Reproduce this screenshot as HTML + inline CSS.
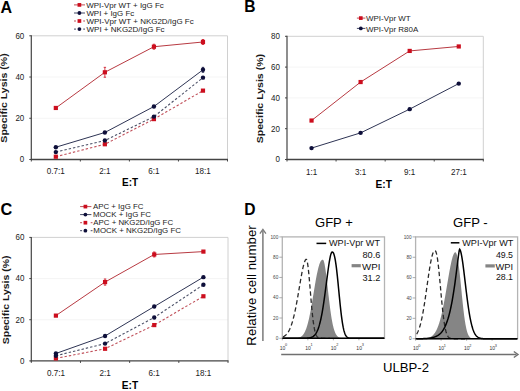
<!DOCTYPE html><html><head><meta charset="utf-8"><style>html,body{margin:0;padding:0;background:#fff;}body{width:520px;height:391px;overflow:hidden}svg{display:block}</style></head><body>
<svg width="520" height="391" viewBox="0 0 520 391" font-family="'Liberation Sans', sans-serif">
<rect width="520" height="391" fill="#fff"/>
<text x="0.6" y="12.7" font-size="16" text-anchor="start" font-weight="bold" fill="#000">A</text>
<text x="244.3" y="12.0" font-size="15.6" text-anchor="start" font-weight="bold" fill="#000">B</text>
<text x="0.6" y="215.0" font-size="16.3" text-anchor="start" font-weight="bold" fill="#000">C</text>
<text x="244.3" y="214.8" font-size="15.6" text-anchor="start" font-weight="bold" fill="#000">D</text>
<line x1="31.30" y1="118.27" x2="227.50" y2="118.27" stroke="#f3f3f3" stroke-width="0.8"/>
<line x1="31.30" y1="77.03" x2="227.50" y2="77.03" stroke="#f3f3f3" stroke-width="0.8"/>
<line x1="31.30" y1="35.80" x2="227.50" y2="35.80" stroke="#d0d0d0" stroke-width="1"/>
<line x1="227.50" y1="35.80" x2="227.50" y2="159.50" stroke="#d0d0d0" stroke-width="1"/>
<line x1="31.30" y1="35.30" x2="31.30" y2="160.00" stroke="#444444" stroke-width="1.2"/>
<line x1="30.80" y1="159.50" x2="228.00" y2="159.50" stroke="#444444" stroke-width="1.3"/>
<line x1="29.30" y1="159.50" x2="31.30" y2="159.50" stroke="#444444" stroke-width="1"/>
<text x="24.3" y="162.30" font-size="8.96" text-anchor="end" fill="#1a1a1a" textLength="4.45" lengthAdjust="spacingAndGlyphs">0</text>
<line x1="29.30" y1="118.27" x2="31.30" y2="118.27" stroke="#444444" stroke-width="1"/>
<text x="24.3" y="121.07" font-size="8.96" text-anchor="end" fill="#1a1a1a" textLength="8.90" lengthAdjust="spacingAndGlyphs">20</text>
<line x1="29.30" y1="77.03" x2="31.30" y2="77.03" stroke="#444444" stroke-width="1"/>
<text x="24.3" y="79.83" font-size="8.96" text-anchor="end" fill="#1a1a1a" textLength="8.90" lengthAdjust="spacingAndGlyphs">40</text>
<line x1="29.30" y1="35.80" x2="31.30" y2="35.80" stroke="#444444" stroke-width="1"/>
<text x="24.3" y="38.60" font-size="8.96" text-anchor="end" fill="#1a1a1a" textLength="8.90" lengthAdjust="spacingAndGlyphs">60</text>
<line x1="31.30" y1="159.50" x2="31.30" y2="161.50" stroke="#444444" stroke-width="1"/>
<line x1="80.35" y1="159.50" x2="80.35" y2="161.50" stroke="#444444" stroke-width="1"/>
<line x1="129.40" y1="159.50" x2="129.40" y2="161.50" stroke="#444444" stroke-width="1"/>
<line x1="178.45" y1="159.50" x2="178.45" y2="161.50" stroke="#444444" stroke-width="1"/>
<line x1="227.50" y1="159.50" x2="227.50" y2="161.50" stroke="#444444" stroke-width="1"/>
<text x="55.83" y="173.7" font-size="9.072000000000001" text-anchor="middle" fill="#1a1a1a" textLength="18.01" lengthAdjust="spacingAndGlyphs">0.7:1</text>
<text x="104.87" y="173.7" font-size="9.072000000000001" text-anchor="middle" fill="#1a1a1a" textLength="11.26" lengthAdjust="spacingAndGlyphs">2:1</text>
<text x="153.93" y="173.7" font-size="9.072000000000001" text-anchor="middle" fill="#1a1a1a" textLength="11.26" lengthAdjust="spacingAndGlyphs">6:1</text>
<text x="202.97" y="173.7" font-size="9.072000000000001" text-anchor="middle" fill="#1a1a1a" textLength="15.76" lengthAdjust="spacingAndGlyphs">18:1</text>
<polyline points="55.83,107.96 104.87,72.29 153.93,46.73 202.97,41.99" fill="none" stroke="#b83a42" stroke-width="1.0"/>
<polyline points="55.83,147.21 104.87,132.49 153.93,106.52 202.97,69.82" fill="none" stroke="#2e3454" stroke-width="1.0"/>
<polyline points="55.83,156.70 104.87,144.24 153.93,119.09 202.97,90.64" fill="none" stroke="#c0505a" stroke-width="1.1" stroke-dasharray="2.4,2.0"/>
<polyline points="55.83,152.08 104.87,140.53 153.93,116.62 202.97,77.65" fill="none" stroke="#4a4f66" stroke-width="1.1" stroke-dasharray="2.4,2.0"/>
<rect x="53.73" y="105.86" width="4.2" height="4.2" fill="#cc0e1e"/>
<line x1="104.87" y1="67.34" x2="104.87" y2="77.24" stroke="#cc0e1e" stroke-width="0.8"/>
<line x1="103.67" y1="67.34" x2="106.07" y2="67.34" stroke="#cc0e1e" stroke-width="0.8"/>
<line x1="103.67" y1="77.24" x2="106.07" y2="77.24" stroke="#cc0e1e" stroke-width="0.8"/>
<rect x="102.77" y="70.19" width="4.2" height="4.2" fill="#cc0e1e"/>
<line x1="153.93" y1="44.25" x2="153.93" y2="49.20" stroke="#cc0e1e" stroke-width="0.8"/>
<line x1="152.73" y1="44.25" x2="155.12" y2="44.25" stroke="#cc0e1e" stroke-width="0.8"/>
<line x1="152.73" y1="49.20" x2="155.12" y2="49.20" stroke="#cc0e1e" stroke-width="0.8"/>
<rect x="151.83" y="44.63" width="4.2" height="4.2" fill="#cc0e1e"/>
<line x1="202.97" y1="39.51" x2="202.97" y2="44.46" stroke="#cc0e1e" stroke-width="0.8"/>
<line x1="201.78" y1="39.51" x2="204.17" y2="39.51" stroke="#cc0e1e" stroke-width="0.8"/>
<line x1="201.78" y1="44.46" x2="204.17" y2="44.46" stroke="#cc0e1e" stroke-width="0.8"/>
<rect x="200.88" y="39.89" width="4.2" height="4.2" fill="#cc0e1e"/>
<circle cx="55.83" cy="147.21" r="2.2" fill="#0e0f3a"/>
<circle cx="104.87" cy="132.49" r="2.2" fill="#0e0f3a"/>
<circle cx="153.93" cy="106.52" r="2.2" fill="#0e0f3a"/>
<line x1="202.97" y1="67.34" x2="202.97" y2="72.29" stroke="#0e0f3a" stroke-width="0.8"/>
<line x1="201.78" y1="67.34" x2="204.17" y2="67.34" stroke="#0e0f3a" stroke-width="0.8"/>
<line x1="201.78" y1="72.29" x2="204.17" y2="72.29" stroke="#0e0f3a" stroke-width="0.8"/>
<circle cx="202.97" cy="69.82" r="2.2" fill="#0e0f3a"/>
<rect x="53.73" y="154.60" width="4.2" height="4.2" fill="#cc0e1e"/>
<rect x="102.77" y="142.14" width="4.2" height="4.2" fill="#cc0e1e"/>
<rect x="151.83" y="116.99" width="4.2" height="4.2" fill="#cc0e1e"/>
<rect x="200.88" y="88.54" width="4.2" height="4.2" fill="#cc0e1e"/>
<circle cx="55.83" cy="152.08" r="2.2" fill="#0e0f3a"/>
<circle cx="104.87" cy="140.53" r="2.2" fill="#0e0f3a"/>
<circle cx="153.93" cy="116.62" r="2.2" fill="#0e0f3a"/>
<circle cx="202.97" cy="77.65" r="2.2" fill="#0e0f3a"/>
<text x="130.1" y="185.8" font-size="10" text-anchor="middle" font-weight="bold" fill="#000">E:T</text>
<text transform="translate(7.3,98.0) rotate(-90)" x="0" y="0" font-size="9" text-anchor="middle" font-weight="bold" fill="#1a1a1a" textLength="89.3" lengthAdjust="spacingAndGlyphs">Specific Lysis (%)</text>
<line x1="74.00" y1="4.90" x2="85.00" y2="4.90" stroke="#b83a42" stroke-width="0.9"/>
<rect x="77.55" y="3.05" width="3.7" height="3.7" fill="#cc0e1e"/>
<text x="86.3" y="7.5" font-size="7.5" text-anchor="start" fill="#1a1a1a" textLength="77.5" lengthAdjust="spacingAndGlyphs">WPI-Vpr WT + IgG Fc</text>
<line x1="74.00" y1="13.00" x2="85.00" y2="13.00" stroke="#2e3454" stroke-width="0.9"/>
<circle cx="79.40" cy="13.00" r="1.9" fill="#0e0f3a"/>
<text x="86.4" y="15.5" font-size="7.5" text-anchor="start" fill="#1a1a1a" textLength="47.8" lengthAdjust="spacingAndGlyphs">WPI + IgG Fc</text>
<line x1="74.00" y1="21.00" x2="76.00" y2="21.00" stroke="#b83a42" stroke-width="0.9"/>
<line x1="83.20" y1="21.00" x2="85.00" y2="21.00" stroke="#b83a42" stroke-width="0.9"/>
<rect x="77.55" y="19.15" width="3.7" height="3.7" fill="#cc0e1e"/>
<text x="86.5" y="23.6" font-size="7.5" text-anchor="start" fill="#1a1a1a" textLength="107.2" lengthAdjust="spacingAndGlyphs">WPI-Vpr WT + NKG2D/IgG Fc</text>
<line x1="74.00" y1="29.10" x2="76.00" y2="29.10" stroke="#2e3454" stroke-width="0.9"/>
<line x1="83.20" y1="29.10" x2="85.00" y2="29.10" stroke="#2e3454" stroke-width="0.9"/>
<circle cx="79.40" cy="29.10" r="1.9" fill="#0e0f3a"/>
<text x="86.5" y="31.5" font-size="7.5" text-anchor="start" fill="#1a1a1a" textLength="78.1" lengthAdjust="spacingAndGlyphs">WPI + NKG2D/IgG Fc</text>
<line x1="287.00" y1="128.70" x2="483.30" y2="128.70" stroke="#f3f3f3" stroke-width="0.8"/>
<line x1="287.00" y1="97.90" x2="483.30" y2="97.90" stroke="#f3f3f3" stroke-width="0.8"/>
<line x1="287.00" y1="67.10" x2="483.30" y2="67.10" stroke="#f3f3f3" stroke-width="0.8"/>
<line x1="287.00" y1="36.30" x2="483.30" y2="36.30" stroke="#d0d0d0" stroke-width="1"/>
<line x1="483.30" y1="36.30" x2="483.30" y2="159.50" stroke="#d0d0d0" stroke-width="1"/>
<line x1="287.00" y1="35.80" x2="287.00" y2="160.00" stroke="#444444" stroke-width="1.2"/>
<line x1="286.50" y1="159.50" x2="483.80" y2="159.50" stroke="#444444" stroke-width="1.3"/>
<line x1="285.00" y1="159.50" x2="287.00" y2="159.50" stroke="#444444" stroke-width="1"/>
<text x="280.0" y="162.30" font-size="8.96" text-anchor="end" fill="#1a1a1a" textLength="4.45" lengthAdjust="spacingAndGlyphs">0</text>
<line x1="285.00" y1="128.70" x2="287.00" y2="128.70" stroke="#444444" stroke-width="1"/>
<text x="280.0" y="131.50" font-size="8.96" text-anchor="end" fill="#1a1a1a" textLength="8.90" lengthAdjust="spacingAndGlyphs">20</text>
<line x1="285.00" y1="97.90" x2="287.00" y2="97.90" stroke="#444444" stroke-width="1"/>
<text x="280.0" y="100.70" font-size="8.96" text-anchor="end" fill="#1a1a1a" textLength="8.90" lengthAdjust="spacingAndGlyphs">40</text>
<line x1="285.00" y1="67.10" x2="287.00" y2="67.10" stroke="#444444" stroke-width="1"/>
<text x="280.0" y="69.90" font-size="8.96" text-anchor="end" fill="#1a1a1a" textLength="8.90" lengthAdjust="spacingAndGlyphs">60</text>
<line x1="285.00" y1="36.30" x2="287.00" y2="36.30" stroke="#444444" stroke-width="1"/>
<text x="280.0" y="39.10" font-size="8.96" text-anchor="end" fill="#1a1a1a" textLength="8.90" lengthAdjust="spacingAndGlyphs">80</text>
<line x1="287.00" y1="159.50" x2="287.00" y2="161.50" stroke="#444444" stroke-width="1"/>
<line x1="336.07" y1="159.50" x2="336.07" y2="161.50" stroke="#444444" stroke-width="1"/>
<line x1="385.15" y1="159.50" x2="385.15" y2="161.50" stroke="#444444" stroke-width="1"/>
<line x1="434.23" y1="159.50" x2="434.23" y2="161.50" stroke="#444444" stroke-width="1"/>
<line x1="483.30" y1="159.50" x2="483.30" y2="161.50" stroke="#444444" stroke-width="1"/>
<text x="311.54" y="174.79999999999998" font-size="9.072000000000001" text-anchor="middle" fill="#1a1a1a" textLength="11.26" lengthAdjust="spacingAndGlyphs">1:1</text>
<text x="360.61" y="174.79999999999998" font-size="9.072000000000001" text-anchor="middle" fill="#1a1a1a" textLength="11.26" lengthAdjust="spacingAndGlyphs">3:1</text>
<text x="409.69" y="174.79999999999998" font-size="9.072000000000001" text-anchor="middle" fill="#1a1a1a" textLength="11.26" lengthAdjust="spacingAndGlyphs">9:1</text>
<text x="458.76" y="174.79999999999998" font-size="9.072000000000001" text-anchor="middle" fill="#1a1a1a" textLength="15.76" lengthAdjust="spacingAndGlyphs">27:1</text>
<polyline points="311.54,120.54 360.61,82.04 409.69,50.93 458.76,46.46" fill="none" stroke="#b83a42" stroke-width="1.0"/>
<polyline points="311.54,148.10 360.61,132.86 409.69,109.14 458.76,83.58" fill="none" stroke="#2e3454" stroke-width="1.0"/>
<rect x="309.44" y="118.44" width="4.2" height="4.2" fill="#cc0e1e"/>
<rect x="358.51" y="79.94" width="4.2" height="4.2" fill="#cc0e1e"/>
<rect x="407.59" y="48.83" width="4.2" height="4.2" fill="#cc0e1e"/>
<rect x="456.66" y="44.36" width="4.2" height="4.2" fill="#cc0e1e"/>
<circle cx="311.54" cy="148.10" r="2.2" fill="#0e0f3a"/>
<circle cx="360.61" cy="132.86" r="2.2" fill="#0e0f3a"/>
<circle cx="409.69" cy="109.14" r="2.2" fill="#0e0f3a"/>
<circle cx="458.76" cy="83.58" r="2.2" fill="#0e0f3a"/>
<text x="383.8" y="187.7" font-size="10.2" text-anchor="middle" font-weight="bold" fill="#000">E:T</text>
<text transform="translate(262.8,98.6) rotate(-90)" x="0" y="0" font-size="9.2" text-anchor="middle" font-weight="bold" fill="#1a1a1a" textLength="89.3" lengthAdjust="spacingAndGlyphs">Specific Lysis (%)</text>
<line x1="356.90" y1="18.10" x2="365.40" y2="18.10" stroke="#b83a42" stroke-width="0.9"/>
<rect x="358.95" y="16.25" width="3.7" height="3.7" fill="#cc0e1e"/>
<text x="366.0" y="21.3" font-size="7.6" text-anchor="start" fill="#1a1a1a" textLength="44.6" lengthAdjust="spacingAndGlyphs">WPI-Vpr WT</text>
<line x1="356.90" y1="28.40" x2="365.40" y2="28.40" stroke="#2e3454" stroke-width="0.9"/>
<circle cx="360.80" cy="28.40" r="1.9" fill="#0e0f3a"/>
<text x="366.0" y="31.6" font-size="7.6" text-anchor="start" fill="#1a1a1a" textLength="52.2" lengthAdjust="spacingAndGlyphs">WPI-Vpr R80A</text>
<line x1="31.30" y1="319.73" x2="228.00" y2="319.73" stroke="#f3f3f3" stroke-width="0.8"/>
<line x1="31.30" y1="278.57" x2="228.00" y2="278.57" stroke="#f3f3f3" stroke-width="0.8"/>
<line x1="31.30" y1="237.40" x2="228.00" y2="237.40" stroke="#d0d0d0" stroke-width="1"/>
<line x1="228.00" y1="237.40" x2="228.00" y2="360.90" stroke="#d0d0d0" stroke-width="1"/>
<line x1="31.30" y1="236.90" x2="31.30" y2="361.40" stroke="#444444" stroke-width="1.2"/>
<line x1="30.80" y1="360.90" x2="228.50" y2="360.90" stroke="#444444" stroke-width="1.3"/>
<line x1="29.30" y1="360.90" x2="31.30" y2="360.90" stroke="#444444" stroke-width="1"/>
<text x="24.4" y="363.70" font-size="8.96" text-anchor="end" fill="#1a1a1a" textLength="4.45" lengthAdjust="spacingAndGlyphs">0</text>
<line x1="29.30" y1="319.73" x2="31.30" y2="319.73" stroke="#444444" stroke-width="1"/>
<text x="24.4" y="322.53" font-size="8.96" text-anchor="end" fill="#1a1a1a" textLength="8.90" lengthAdjust="spacingAndGlyphs">20</text>
<line x1="29.30" y1="278.57" x2="31.30" y2="278.57" stroke="#444444" stroke-width="1"/>
<text x="24.4" y="281.37" font-size="8.96" text-anchor="end" fill="#1a1a1a" textLength="8.90" lengthAdjust="spacingAndGlyphs">40</text>
<line x1="29.30" y1="237.40" x2="31.30" y2="237.40" stroke="#444444" stroke-width="1"/>
<text x="24.4" y="240.20" font-size="8.96" text-anchor="end" fill="#1a1a1a" textLength="8.90" lengthAdjust="spacingAndGlyphs">60</text>
<line x1="31.30" y1="360.90" x2="31.30" y2="362.90" stroke="#444444" stroke-width="1"/>
<line x1="80.47" y1="360.90" x2="80.47" y2="362.90" stroke="#444444" stroke-width="1"/>
<line x1="129.65" y1="360.90" x2="129.65" y2="362.90" stroke="#444444" stroke-width="1"/>
<line x1="178.82" y1="360.90" x2="178.82" y2="362.90" stroke="#444444" stroke-width="1"/>
<line x1="228.00" y1="360.90" x2="228.00" y2="362.90" stroke="#444444" stroke-width="1"/>
<text x="55.89" y="375.59999999999997" font-size="9.072000000000001" text-anchor="middle" fill="#1a1a1a" textLength="18.01" lengthAdjust="spacingAndGlyphs">0.7:1</text>
<text x="105.06" y="375.59999999999997" font-size="9.072000000000001" text-anchor="middle" fill="#1a1a1a" textLength="11.26" lengthAdjust="spacingAndGlyphs">2:1</text>
<text x="154.24" y="375.59999999999997" font-size="9.072000000000001" text-anchor="middle" fill="#1a1a1a" textLength="11.26" lengthAdjust="spacingAndGlyphs">6:1</text>
<text x="203.41" y="375.59999999999997" font-size="9.072000000000001" text-anchor="middle" fill="#1a1a1a" textLength="15.76" lengthAdjust="spacingAndGlyphs">18:1</text>
<polyline points="55.89,315.62 105.06,282.07 154.24,254.48 203.41,251.60" fill="none" stroke="#b83a42" stroke-width="1.0"/>
<polyline points="55.89,353.49 105.06,335.99 154.24,306.56 203.41,277.13" fill="none" stroke="#2e3454" stroke-width="1.0"/>
<polyline points="55.89,358.43 105.06,348.76 154.24,325.08 203.41,296.27" fill="none" stroke="#c0505a" stroke-width="1.1" stroke-dasharray="2.4,2.0"/>
<polyline points="55.89,355.75 105.06,343.61 154.24,317.47 203.41,284.74" fill="none" stroke="#4a4f66" stroke-width="1.1" stroke-dasharray="2.4,2.0"/>
<rect x="53.79" y="313.52" width="4.2" height="4.2" fill="#cc0e1e"/>
<line x1="105.06" y1="278.98" x2="105.06" y2="285.15" stroke="#cc0e1e" stroke-width="0.8"/>
<line x1="103.86" y1="278.98" x2="106.26" y2="278.98" stroke="#cc0e1e" stroke-width="0.8"/>
<line x1="103.86" y1="285.15" x2="106.26" y2="285.15" stroke="#cc0e1e" stroke-width="0.8"/>
<rect x="102.96" y="279.97" width="4.2" height="4.2" fill="#cc0e1e"/>
<line x1="154.24" y1="252.01" x2="154.24" y2="256.95" stroke="#cc0e1e" stroke-width="0.8"/>
<line x1="153.04" y1="252.01" x2="155.44" y2="252.01" stroke="#cc0e1e" stroke-width="0.8"/>
<line x1="153.04" y1="256.95" x2="155.44" y2="256.95" stroke="#cc0e1e" stroke-width="0.8"/>
<rect x="152.14" y="252.38" width="4.2" height="4.2" fill="#cc0e1e"/>
<rect x="201.31" y="249.50" width="4.2" height="4.2" fill="#cc0e1e"/>
<circle cx="55.89" cy="353.49" r="2.2" fill="#0e0f3a"/>
<circle cx="105.06" cy="335.99" r="2.2" fill="#0e0f3a"/>
<circle cx="154.24" cy="306.56" r="2.2" fill="#0e0f3a"/>
<circle cx="203.41" cy="277.13" r="2.2" fill="#0e0f3a"/>
<rect x="53.79" y="356.33" width="4.2" height="4.2" fill="#cc0e1e"/>
<rect x="102.96" y="346.66" width="4.2" height="4.2" fill="#cc0e1e"/>
<rect x="152.14" y="322.98" width="4.2" height="4.2" fill="#cc0e1e"/>
<rect x="201.31" y="294.17" width="4.2" height="4.2" fill="#cc0e1e"/>
<circle cx="55.89" cy="355.75" r="2.2" fill="#0e0f3a"/>
<circle cx="105.06" cy="343.61" r="2.2" fill="#0e0f3a"/>
<circle cx="154.24" cy="317.47" r="2.2" fill="#0e0f3a"/>
<circle cx="203.41" cy="284.74" r="2.2" fill="#0e0f3a"/>
<text x="130.0" y="389.4" font-size="10.2" text-anchor="middle" font-weight="bold" fill="#000">E:T</text>
<text transform="translate(8.9,299.85) rotate(-90)" x="0" y="0" font-size="9" text-anchor="middle" font-weight="bold" fill="#1a1a1a" textLength="88.6" lengthAdjust="spacingAndGlyphs">Specific Lysis (%)</text>
<line x1="80.10" y1="206.60" x2="91.40" y2="206.60" stroke="#b83a42" stroke-width="0.9"/>
<rect x="83.55" y="204.75" width="3.7" height="3.7" fill="#cc0e1e"/>
<text x="92.9" y="209.0" font-size="6.7" text-anchor="start" fill="#1a1a1a" textLength="50.6" lengthAdjust="spacingAndGlyphs">APC + IgG FC</text>
<line x1="80.10" y1="214.60" x2="91.40" y2="214.60" stroke="#2e3454" stroke-width="0.9"/>
<circle cx="85.40" cy="214.60" r="1.9" fill="#0e0f3a"/>
<text x="92.9" y="216.9" font-size="6.7" text-anchor="start" fill="#1a1a1a" textLength="58.1" lengthAdjust="spacingAndGlyphs">MOCK + IgG FC</text>
<line x1="80.10" y1="222.70" x2="82.10" y2="222.70" stroke="#b83a42" stroke-width="0.9"/>
<line x1="90.70" y1="222.70" x2="92.50" y2="222.70" stroke="#b83a42" stroke-width="0.9"/>
<rect x="83.55" y="220.85" width="3.7" height="3.7" fill="#cc0e1e"/>
<text x="93.3" y="225.0" font-size="6.7" text-anchor="start" fill="#1a1a1a" textLength="79.8" lengthAdjust="spacingAndGlyphs">APC + NKG2D/IgG FC</text>
<line x1="80.10" y1="230.70" x2="82.10" y2="230.70" stroke="#2e3454" stroke-width="0.9"/>
<line x1="90.70" y1="230.70" x2="92.50" y2="230.70" stroke="#2e3454" stroke-width="0.9"/>
<circle cx="85.40" cy="230.70" r="1.9" fill="#0e0f3a"/>
<text x="93.3" y="233.2" font-size="6.7" text-anchor="start" fill="#1a1a1a" textLength="87.7" lengthAdjust="spacingAndGlyphs">MOCK + NKG2D/IgG FC</text>
<rect x="282.3" y="236.9" width="102.19999999999999" height="101.4" fill="none" stroke="#b4b4b4" stroke-width="1.3"/>
<line x1="279.30" y1="338.30" x2="282.30" y2="338.30" stroke="#999" stroke-width="0.8"/>
<text x="278.3" y="340.00" font-size="4.7" text-anchor="end" fill="#444">0</text>
<line x1="279.30" y1="318.02" x2="282.30" y2="318.02" stroke="#999" stroke-width="0.8"/>
<text x="278.3" y="319.72" font-size="4.7" text-anchor="end" fill="#444">20</text>
<line x1="279.30" y1="297.74" x2="282.30" y2="297.74" stroke="#999" stroke-width="0.8"/>
<text x="278.3" y="299.44" font-size="4.7" text-anchor="end" fill="#444">40</text>
<line x1="279.30" y1="277.46" x2="282.30" y2="277.46" stroke="#999" stroke-width="0.8"/>
<text x="278.3" y="279.16" font-size="4.7" text-anchor="end" fill="#444">60</text>
<line x1="279.30" y1="257.18" x2="282.30" y2="257.18" stroke="#999" stroke-width="0.8"/>
<text x="278.3" y="258.88" font-size="4.7" text-anchor="end" fill="#444">80</text>
<line x1="279.30" y1="236.90" x2="282.30" y2="236.90" stroke="#999" stroke-width="0.8"/>
<text x="278.3" y="238.60" font-size="4.7" text-anchor="end" fill="#444">100</text>
<line x1="282.30" y1="338.30" x2="282.30" y2="340.30" stroke="#999" stroke-width="0.8"/>
<text x="282.50" y="349.90" font-size="5.0" text-anchor="middle" fill="#333">10</text>
<text x="286.10" y="346.10" font-size="3.8" text-anchor="middle" fill="#333">0</text>
<line x1="307.85" y1="338.30" x2="307.85" y2="340.30" stroke="#999" stroke-width="0.8"/>
<text x="308.05" y="349.90" font-size="5.0" text-anchor="middle" fill="#333">10</text>
<text x="311.65" y="346.10" font-size="3.8" text-anchor="middle" fill="#333">1</text>
<line x1="333.40" y1="338.30" x2="333.40" y2="340.30" stroke="#999" stroke-width="0.8"/>
<text x="333.60" y="349.90" font-size="5.0" text-anchor="middle" fill="#333">10</text>
<text x="337.20" y="346.10" font-size="3.8" text-anchor="middle" fill="#333">2</text>
<line x1="358.95" y1="338.30" x2="358.95" y2="340.30" stroke="#999" stroke-width="0.8"/>
<text x="359.15" y="349.90" font-size="5.0" text-anchor="middle" fill="#333">10</text>
<text x="362.75" y="346.10" font-size="3.8" text-anchor="middle" fill="#333">3</text>
<path d="M283.00,338.3 L283.00,338.30 L283.28,338.30 L283.56,338.30 L283.84,338.30 L284.12,338.30 L284.40,338.30 L284.68,338.30 L284.95,338.30 L285.23,338.30 L285.51,338.30 L285.79,338.30 L286.07,338.30 L286.35,338.30 L286.63,338.30 L286.91,338.30 L287.19,338.30 L287.47,338.30 L287.75,338.30 L288.02,338.30 L288.30,338.30 L288.58,338.30 L288.86,338.30 L289.14,338.30 L289.42,338.30 L289.70,338.30 L289.98,338.30 L290.26,338.29 L290.54,338.29 L290.82,338.29 L291.10,338.29 L291.38,338.29 L291.65,338.29 L291.93,338.28 L292.21,338.28 L292.49,338.28 L292.77,338.27 L293.05,338.27 L293.33,338.26 L293.61,338.26 L293.89,338.25 L294.17,338.24 L294.45,338.23 L294.73,338.22 L295.00,338.20 L295.28,338.19 L295.56,338.17 L295.84,338.15 L296.12,338.13 L296.40,338.10 L296.68,338.07 L296.96,338.03 L297.24,337.99 L297.52,337.95 L297.80,337.90 L298.07,337.84 L298.35,337.78 L298.63,337.71 L298.91,337.63 L299.19,337.54 L299.47,337.44 L299.75,337.33 L300.03,337.20 L300.31,337.07 L300.59,336.91 L300.87,336.75 L301.15,336.56 L301.43,336.36 L301.70,336.14 L301.98,335.90 L302.26,335.63 L302.54,335.34 L302.82,335.03 L303.10,334.68 L303.38,334.31 L303.66,333.91 L303.94,333.48 L304.22,333.01 L304.50,332.51 L304.77,331.97 L305.05,331.39 L305.33,330.78 L305.61,330.12 L305.89,329.42 L306.17,328.68 L306.45,327.89 L306.73,327.05 L307.01,326.17 L307.29,325.25 L307.57,324.27 L307.85,323.25 L308.12,322.18 L308.40,321.06 L308.68,319.89 L308.96,318.68 L309.24,317.41 L309.52,316.11 L309.80,314.76 L310.08,313.36 L310.36,311.93 L310.64,310.45 L310.92,308.94 L311.20,307.40 L311.48,305.82 L311.75,304.21 L312.03,302.58 L312.31,300.93 L312.59,299.26 L312.87,297.57 L313.15,295.87 L313.43,294.17 L313.71,292.47 L313.99,290.76 L314.27,289.07 L314.55,287.38 L314.82,285.72 L315.10,284.07 L315.38,282.45 L315.66,280.85 L315.94,279.29 L316.22,277.77 L316.50,276.29 L316.78,274.86 L317.06,273.48 L317.34,272.15 L317.62,270.88 L317.90,269.67 L318.18,268.52 L318.45,267.44 L318.73,266.43 L319.01,265.49 L319.29,264.62 L319.57,263.82 L319.85,263.09 L320.13,262.44 L320.41,261.86 L320.69,261.35 L320.97,260.92 L321.25,260.56 L321.52,260.27 L321.80,260.04 L322.08,259.87 L322.36,259.77 L322.64,259.71 L322.92,259.70 L323.20,259.88 L323.48,260.32 L323.76,261.01 L324.04,261.92 L324.32,263.05 L324.60,264.37 L324.88,265.88 L325.15,267.55 L325.43,269.37 L325.71,271.33 L325.99,273.41 L326.27,275.60 L326.55,277.87 L326.83,280.21 L327.11,282.61 L327.39,285.04 L327.67,287.50 L327.95,289.97 L328.23,292.44 L328.50,294.89 L328.78,297.31 L329.06,299.70 L329.34,302.03 L329.62,304.31 L329.90,306.53 L330.18,308.67 L330.46,310.74 L330.74,312.73 L331.02,314.63 L331.30,316.44 L331.57,318.16 L331.85,319.79 L332.13,321.33 L332.41,322.78 L332.69,324.14 L332.97,325.41 L333.25,326.59 L333.53,327.70 L333.81,328.72 L334.09,329.66 L334.37,330.53 L334.65,331.32 L334.93,332.05 L335.20,332.72 L335.48,333.33 L335.76,333.88 L336.04,334.38 L336.32,334.83 L336.60,335.24 L336.88,335.60 L337.16,335.93 L337.44,336.22 L337.72,336.48 L338.00,336.71 L338.27,336.92 L338.55,337.10 L338.83,337.26 L339.11,337.40 L339.39,337.52 L339.67,337.63 L339.95,337.72 L340.23,337.81 L340.51,337.88 L340.79,337.94 L341.07,337.99 L341.35,338.04 L341.62,338.08 L341.90,338.11 L342.18,338.14 L342.46,338.17 L342.74,338.19 L343.02,338.21 L343.30,338.22 L343.58,338.23 L343.86,338.25 L344.14,338.25 L344.42,338.26 L344.70,338.27 L344.98,338.27 L345.25,338.28 L345.53,338.28 L345.81,338.29 L346.09,338.29 L346.37,338.29 L346.65,338.29 L346.93,338.29 L347.21,338.29 L347.49,338.30 L347.77,338.30 L348.05,338.30 L348.32,338.30 L348.60,338.30 L348.88,338.30 L349.16,338.30 L349.44,338.30 L349.72,338.30 L350.00,338.30 L350.00,338.3 Z" fill="#858585" stroke="none"/>
<polyline points="283.00,336.87 283.20,336.78 283.39,336.69 283.59,336.59 283.78,336.48 283.98,336.37 284.18,336.25 284.37,336.13 284.57,336.00 284.76,335.86 284.96,335.72 285.15,335.57 285.35,335.41 285.55,335.24 285.74,335.07 285.94,334.89 286.13,334.69 286.33,334.49 286.52,334.28 286.72,334.06 286.92,333.83 287.11,333.59 287.31,333.34 287.50,333.07 287.70,332.80 287.90,332.51 288.09,332.21 288.29,331.90 288.48,331.58 288.68,331.24 288.88,330.89 289.07,330.52 289.27,330.14 289.46,329.75 289.66,329.34 289.85,328.91 290.05,328.47 290.25,328.01 290.44,327.54 290.64,327.04 290.83,326.54 291.03,326.01 291.23,325.47 291.42,324.91 291.62,324.33 291.81,323.73 292.01,323.11 292.20,322.48 292.40,321.83 292.60,321.15 292.79,320.46 292.99,319.75 293.18,319.02 293.38,318.27 293.57,317.50 293.77,316.71 293.97,315.90 294.16,315.07 294.36,314.23 294.55,313.36 294.75,312.48 294.95,311.57 295.14,310.65 295.34,309.71 295.53,308.76 295.73,307.78 295.93,306.79 296.12,305.78 296.32,304.76 296.51,303.72 296.71,302.67 296.90,301.60 297.10,300.52 297.30,299.43 297.49,298.33 297.69,297.22 297.88,296.09 298.08,294.96 298.27,293.82 298.47,292.68 298.67,291.52 298.86,290.37 299.06,289.21 299.25,288.05 299.45,286.89 299.65,285.73 299.84,284.58 300.04,283.42 300.23,282.28 300.43,281.14 300.62,280.00 300.82,278.88 301.02,277.77 301.21,276.68 301.41,275.60 301.60,274.54 301.80,273.49 302.00,272.47 302.19,271.47 302.39,270.49 302.58,269.54 302.78,268.62 302.98,267.73 303.17,266.87 303.37,266.05 303.56,265.26 303.76,264.51 303.95,263.80 304.15,263.13 304.35,262.51 304.54,261.93 304.74,261.40 304.93,260.93 305.13,260.50 305.32,260.14 305.52,259.83 305.72,259.59 305.91,259.41 306.11,259.31 306.30,259.32 306.50,259.49 306.70,259.83 306.89,260.34 307.09,261.03 307.28,261.89 307.48,262.92 307.68,264.10 307.87,265.45 308.07,266.94 308.26,268.56 308.46,270.32 308.65,272.19 308.85,274.17 309.05,276.24 309.24,278.39 309.44,280.61 309.63,282.88 309.83,285.20 310.02,287.55 310.22,289.91 310.42,292.28 310.61,294.64 310.81,296.99 311.00,299.30 311.20,301.59 311.40,303.82 311.59,306.00 311.79,308.12 311.98,310.17 312.18,312.15 312.38,314.05 312.57,315.87 312.77,317.61 312.96,319.26 313.16,320.83 313.35,322.30 313.55,323.69 313.75,325.00 313.94,326.22 314.14,327.35 314.33,328.41 314.53,329.38 314.73,330.28 314.92,331.11 315.12,331.87 315.31,332.56 315.51,333.20 315.70,333.77 315.90,334.29 316.10,334.76 316.29,335.18 316.49,335.56 316.68,335.90 316.88,336.21 317.07,336.48 317.27,336.72 317.47,336.93 317.66,337.11 317.86,337.28 318.05,337.42 318.25,337.55 318.45,337.65 318.64,337.75 318.84,337.83 319.03,337.90 319.23,337.96 319.43,338.02 319.62,338.06 319.82,338.10 320.01,338.13 320.21,338.16 320.40,338.18 320.60,338.20 320.80,338.22 320.99,338.23 321.19,338.25 321.38,338.25 321.58,338.26 321.77,338.27 321.97,338.28 322.17,338.28 322.36,338.28 322.56,338.29 322.75,338.29 322.95,338.29 323.15,338.29 323.34,338.29 323.54,338.30 323.73,338.30 323.93,338.30 324.12,338.30 324.32,338.30 324.52,338.30 324.71,338.30 324.91,338.30 325.10,338.30 325.30,338.30 325.50,338.30 325.69,338.30 325.89,338.30 326.08,338.30 326.28,338.30 326.48,338.30 326.67,338.30 326.87,338.30 327.06,338.30 327.26,338.30 327.45,338.30 327.65,338.30 327.85,338.30 328.04,338.30 328.24,338.30 328.43,338.30 328.63,338.30 328.82,338.30 329.02,338.30 329.22,338.30 329.41,338.30 329.61,338.30 329.80,338.30 330.00,338.30" fill="none" stroke="#2a2a2a" stroke-width="1.3" stroke-dasharray="4.4,2.8"/>
<polyline points="283.00,338.30 283.42,338.30 283.84,338.30 284.26,338.30 284.68,338.30 285.10,338.30 285.52,338.30 285.95,338.30 286.37,338.30 286.79,338.30 287.21,338.30 287.63,338.30 288.05,338.30 288.47,338.30 288.89,338.30 289.31,338.30 289.73,338.30 290.15,338.30 290.57,338.30 291.00,338.30 291.42,338.30 291.84,338.30 292.26,338.30 292.68,338.30 293.10,338.30 293.52,338.30 293.94,338.30 294.36,338.30 294.78,338.30 295.20,338.30 295.62,338.30 296.05,338.30 296.47,338.30 296.89,338.30 297.31,338.30 297.73,338.30 298.15,338.30 298.57,338.30 298.99,338.30 299.41,338.30 299.83,338.30 300.25,338.29 300.68,338.29 301.10,338.29 301.52,338.29 301.94,338.29 302.36,338.28 302.78,338.28 303.20,338.27 303.62,338.27 304.04,338.26 304.46,338.25 304.88,338.24 305.30,338.22 305.73,338.21 306.15,338.19 306.57,338.17 306.99,338.14 307.41,338.10 307.83,338.07 308.25,338.02 308.67,337.96 309.09,337.90 309.51,337.82 309.93,337.73 310.35,337.63 310.77,337.51 311.20,337.37 311.62,337.21 312.04,337.02 312.46,336.80 312.88,336.56 313.30,336.27 313.72,335.95 314.14,335.58 314.56,335.16 314.98,334.69 315.40,334.16 315.82,333.56 316.25,332.89 316.67,332.14 317.09,331.30 317.51,330.38 317.93,329.36 318.35,328.23 318.77,326.99 319.19,325.64 319.61,324.17 320.03,322.56 320.45,320.83 320.88,318.96 321.30,316.96 321.72,314.81 322.14,312.53 322.56,310.11 322.98,307.55 323.40,304.87 323.82,302.06 324.24,299.15 324.66,296.13 325.08,293.02 325.50,289.84 325.93,286.61 326.35,283.35 326.77,280.09 327.19,276.84 327.61,273.64 328.03,270.52 328.45,267.51 328.87,264.64 329.29,261.96 329.71,259.51 330.13,257.31 330.55,255.42 330.98,253.88 331.40,252.74 331.82,252.09 332.24,252.01 332.66,252.16 333.08,252.53 333.50,253.21 333.92,254.21 334.34,255.59 334.76,257.35 335.18,259.50 335.60,262.04 336.02,264.96 336.45,268.22 336.87,271.79 337.29,275.63 337.71,279.69 338.13,283.91 338.55,288.22 338.97,292.57 339.39,296.90 339.81,301.14 340.23,305.25 340.65,309.17 341.07,312.86 341.50,316.30 341.92,319.47 342.34,322.34 342.76,324.91 343.18,327.18 343.60,329.16 344.02,330.88 344.44,332.33 344.86,333.56 345.28,334.57 345.70,335.41 346.12,336.08 346.55,336.62 346.97,337.04 347.39,337.37 347.81,337.62 348.23,337.81 348.65,337.95 349.07,338.05 349.49,338.13 349.91,338.18 350.33,338.22 350.75,338.25 351.18,338.27 351.60,338.28 352.02,338.29 352.44,338.29 352.86,338.29 353.28,338.30 353.70,338.30 354.12,338.30 354.54,338.30 354.96,338.30 355.38,338.30 355.80,338.30 356.23,338.30 356.65,338.30 357.07,338.30 357.49,338.30 357.91,338.30 358.33,338.30 358.75,338.30 359.17,338.30 359.59,338.30 360.01,338.30 360.43,338.30 360.85,338.30 361.27,338.30 361.70,338.30 362.12,338.30 362.54,338.30 362.96,338.30 363.38,338.30 363.80,338.30 364.22,338.30 364.64,338.30 365.06,338.30 365.48,338.30 365.90,338.30 366.32,338.30 366.75,338.30 367.17,338.30 367.59,338.30 368.01,338.30 368.43,338.30 368.85,338.30 369.27,338.30 369.69,338.30 370.11,338.30 370.53,338.30 370.95,338.30 371.38,338.30 371.80,338.30 372.22,338.30 372.64,338.30 373.06,338.30 373.48,338.30 373.90,338.30 374.32,338.30 374.74,338.30 375.16,338.30 375.58,338.30 376.00,338.30 376.43,338.30 376.85,338.30 377.27,338.30 377.69,338.30 378.11,338.30 378.53,338.30 378.95,338.30 379.37,338.30 379.79,338.30 380.21,338.30 380.63,338.30 381.05,338.30 381.48,338.30 381.90,338.30 382.32,338.30 382.74,338.30 383.16,338.30 383.58,338.30 384.00,338.30" fill="none" stroke="#000" stroke-width="1.5"/>
<line x1="282.30" y1="338.30" x2="384.50" y2="338.30" stroke="#000" stroke-width="1.4"/>
<line x1="316.50" y1="243.40" x2="326.20" y2="243.40" stroke="#000" stroke-width="1.5"/>
<text x="329.0" y="246.4" font-size="8.7" text-anchor="start" fill="#111" textLength="51.0" lengthAdjust="spacingAndGlyphs">WPI-Vpr WT</text>
<text x="380.4" y="258.0" font-size="9.2" text-anchor="end" fill="#111">80.6</text>
<line x1="351.60" y1="265.70" x2="360.80" y2="265.70" stroke="#858585" stroke-width="3.2"/>
<text x="380.4" y="269.6" font-size="9.2" text-anchor="end" fill="#111" textLength="18.4" lengthAdjust="spacingAndGlyphs">WPI</text>
<text x="380.4" y="280.7" font-size="9.2" text-anchor="end" fill="#111">31.2</text>
<text x="315.0" y="226.8" font-size="13" text-anchor="start" fill="#000" textLength="37.8" lengthAdjust="spacingAndGlyphs">GFP +</text>
<rect x="415.6" y="236.9" width="102.0" height="101.79999999999998" fill="none" stroke="#b4b4b4" stroke-width="1.3"/>
<line x1="412.60" y1="338.70" x2="415.60" y2="338.70" stroke="#999" stroke-width="0.8"/>
<text x="411.6" y="340.40" font-size="4.7" text-anchor="end" fill="#444">0</text>
<line x1="412.60" y1="318.34" x2="415.60" y2="318.34" stroke="#999" stroke-width="0.8"/>
<text x="411.6" y="320.04" font-size="4.7" text-anchor="end" fill="#444">20</text>
<line x1="412.60" y1="297.98" x2="415.60" y2="297.98" stroke="#999" stroke-width="0.8"/>
<text x="411.6" y="299.68" font-size="4.7" text-anchor="end" fill="#444">40</text>
<line x1="412.60" y1="277.62" x2="415.60" y2="277.62" stroke="#999" stroke-width="0.8"/>
<text x="411.6" y="279.32" font-size="4.7" text-anchor="end" fill="#444">60</text>
<line x1="412.60" y1="257.26" x2="415.60" y2="257.26" stroke="#999" stroke-width="0.8"/>
<text x="411.6" y="258.96" font-size="4.7" text-anchor="end" fill="#444">80</text>
<line x1="412.60" y1="236.90" x2="415.60" y2="236.90" stroke="#999" stroke-width="0.8"/>
<text x="411.6" y="238.60" font-size="4.7" text-anchor="end" fill="#444">100</text>
<line x1="415.60" y1="338.70" x2="415.60" y2="340.70" stroke="#999" stroke-width="0.8"/>
<text x="415.80" y="350.30" font-size="5.0" text-anchor="middle" fill="#333">10</text>
<text x="419.40" y="346.50" font-size="3.8" text-anchor="middle" fill="#333">0</text>
<line x1="441.10" y1="338.70" x2="441.10" y2="340.70" stroke="#999" stroke-width="0.8"/>
<text x="441.30" y="350.30" font-size="5.0" text-anchor="middle" fill="#333">10</text>
<text x="444.90" y="346.50" font-size="3.8" text-anchor="middle" fill="#333">1</text>
<line x1="466.60" y1="338.70" x2="466.60" y2="340.70" stroke="#999" stroke-width="0.8"/>
<text x="466.80" y="350.30" font-size="5.0" text-anchor="middle" fill="#333">10</text>
<text x="470.40" y="346.50" font-size="3.8" text-anchor="middle" fill="#333">2</text>
<line x1="492.10" y1="338.70" x2="492.10" y2="340.70" stroke="#999" stroke-width="0.8"/>
<text x="492.30" y="350.30" font-size="5.0" text-anchor="middle" fill="#333">10</text>
<text x="495.90" y="346.50" font-size="3.8" text-anchor="middle" fill="#333">3</text>
<path d="M418.00,338.7 L418.00,338.78 L418.30,338.78 L418.60,338.77 L418.90,338.77 L419.20,338.77 L419.50,338.76 L419.80,338.76 L420.10,338.75 L420.40,338.74 L420.70,338.74 L421.00,338.73 L421.30,338.72 L421.60,338.71 L421.90,338.70 L422.20,338.69 L422.50,338.67 L422.80,338.66 L423.10,338.64 L423.40,338.63 L423.70,338.61 L424.00,338.58 L424.30,338.56 L424.60,338.53 L424.90,338.50 L425.20,338.47 L425.50,338.43 L425.80,338.39 L426.10,338.35 L426.40,338.30 L426.70,338.25 L427.00,338.19 L427.30,338.12 L427.60,338.05 L427.90,337.98 L428.20,337.90 L428.50,337.81 L428.80,337.71 L429.10,337.60 L429.40,337.49 L429.70,337.36 L430.00,337.23 L430.30,337.08 L430.60,336.92 L430.90,336.75 L431.20,336.56 L431.50,336.36 L431.80,336.15 L432.10,335.92 L432.40,335.67 L432.70,335.41 L433.00,335.12 L433.30,334.81 L433.60,334.49 L433.90,334.14 L434.20,333.77 L434.50,333.37 L434.80,332.95 L435.10,332.50 L435.40,332.02 L435.70,331.51 L436.00,330.98 L436.30,330.41 L436.60,329.81 L436.90,329.17 L437.20,328.50 L437.50,327.80 L437.80,327.06 L438.10,326.28 L438.40,325.46 L438.70,324.61 L439.00,323.71 L439.30,322.77 L439.60,321.79 L439.90,320.77 L440.20,319.71 L440.50,318.60 L440.80,317.45 L441.10,316.26 L441.40,315.03 L441.70,313.75 L442.00,312.43 L442.30,311.07 L442.60,309.68 L442.90,308.24 L443.20,306.76 L443.50,305.25 L443.80,303.70 L444.10,302.11 L444.40,300.50 L444.70,298.86 L445.00,297.19 L445.30,295.49 L445.60,293.77 L445.90,292.04 L446.20,290.29 L446.50,288.52 L446.80,286.75 L447.10,284.97 L447.40,283.19 L447.70,281.42 L448.00,279.65 L448.30,277.90 L448.60,276.16 L448.90,274.45 L449.20,272.76 L449.50,271.10 L449.80,269.48 L450.10,267.89 L450.40,266.36 L450.70,264.88 L451.00,263.45 L451.30,262.09 L451.60,260.79 L451.90,259.56 L452.20,258.41 L452.50,257.35 L452.80,256.37 L453.10,255.48 L453.40,254.69 L453.70,254.01 L454.00,253.43 L454.30,252.96 L454.60,252.61 L454.90,252.38 L455.20,252.30 L455.50,252.35 L455.80,252.56 L456.10,252.94 L456.40,253.53 L456.70,254.32 L457.00,255.32 L457.30,256.54 L457.60,257.98 L457.90,259.62 L458.20,261.48 L458.50,263.52 L458.80,265.75 L459.10,268.15 L459.40,270.69 L459.70,273.37 L460.00,276.17 L460.30,279.05 L460.60,282.01 L460.90,285.02 L461.20,288.06 L461.50,291.10 L461.80,294.14 L462.10,297.14 L462.40,300.09 L462.70,302.97 L463.00,305.76 L463.30,308.47 L463.60,311.06 L463.90,313.53 L464.20,315.88 L464.50,318.10 L464.80,320.18 L465.10,322.12 L465.40,323.92 L465.70,325.59 L466.00,327.11 L466.30,328.51 L466.60,329.78 L466.90,330.93 L467.20,331.96 L467.50,332.88 L467.80,333.70 L468.10,334.43 L468.40,335.07 L468.70,335.63 L469.00,336.12 L469.30,336.55 L469.60,336.91 L469.90,337.22 L470.20,337.49 L470.50,337.72 L470.80,337.91 L471.10,338.07 L471.40,338.21 L471.70,338.32 L472.00,338.41 L472.30,338.49 L472.60,338.55 L472.90,338.60 L473.20,338.64 L473.50,338.68 L473.80,338.70 L474.10,338.73 L474.40,338.74 L474.70,338.76 L475.00,338.77 L475.30,338.77 L475.60,338.78 L475.90,338.78 L476.20,338.79 L476.50,338.79 L476.80,338.79 L477.10,338.80 L477.40,338.80 L477.70,338.80 L478.00,338.80 L478.30,338.80 L478.60,338.80 L478.90,338.80 L479.20,338.80 L479.50,338.80 L479.80,338.80 L480.10,338.80 L480.40,338.80 L480.70,338.80 L481.00,338.80 L481.30,338.80 L481.60,338.80 L481.90,338.80 L482.20,338.80 L482.50,338.80 L482.80,338.80 L483.10,338.80 L483.40,338.80 L483.70,338.80 L484.00,338.80 L484.30,338.80 L484.60,338.80 L484.90,338.80 L485.20,338.80 L485.50,338.80 L485.80,338.80 L486.10,338.80 L486.40,338.80 L486.70,338.80 L487.00,338.80 L487.30,338.80 L487.60,338.80 L487.90,338.80 L488.20,338.80 L488.50,338.80 L488.80,338.80 L489.10,338.80 L489.40,338.80 L489.70,338.80 L490.00,338.80 L490.00,338.7 Z" fill="#858585" stroke="none"/>
<polyline points="416.60,334.13 416.80,333.81 417.00,333.47 417.21,333.11 417.41,332.73 417.61,332.33 417.81,331.92 418.01,331.48 418.21,331.02 418.42,330.53 418.62,330.02 418.82,329.49 419.02,328.94 419.22,328.36 419.42,327.75 419.62,327.12 419.83,326.46 420.03,325.78 420.23,325.06 420.43,324.32 420.63,323.56 420.84,322.76 421.04,321.93 421.24,321.08 421.44,320.20 421.64,319.28 421.84,318.34 422.05,317.37 422.25,316.38 422.45,315.35 422.65,314.30 422.85,313.21 423.05,312.10 423.25,310.97 423.46,309.80 423.66,308.62 423.86,307.40 424.06,306.17 424.26,304.91 424.47,303.63 424.67,302.32 424.87,301.00 425.07,299.66 425.27,298.31 425.47,296.93 425.68,295.55 425.88,294.15 426.08,292.74 426.28,291.32 426.48,289.90 426.68,288.47 426.88,287.04 427.09,285.60 427.29,284.17 427.49,282.74 427.69,281.31 427.89,279.90 428.10,278.49 428.30,277.09 428.50,275.71 428.70,274.35 428.90,273.00 429.10,271.67 429.31,270.37 429.51,269.09 429.71,267.85 429.91,266.63 430.11,265.44 430.31,264.28 430.52,263.17 430.72,262.09 430.92,261.05 431.12,260.05 431.32,259.10 431.52,258.19 431.73,257.33 431.93,256.51 432.13,255.75 432.33,255.04 432.53,254.38 432.73,253.77 432.94,253.22 433.14,252.72 433.34,252.27 433.54,251.88 433.74,251.55 433.94,251.27 434.15,251.05 434.35,250.88 434.55,250.77 434.75,250.71 434.95,250.70 435.15,250.75 435.36,250.88 435.56,251.10 435.76,251.43 435.96,251.86 436.16,252.41 436.36,253.07 436.56,253.85 436.77,254.74 436.97,255.75 437.17,256.88 437.37,258.11 437.57,259.46 437.78,260.90 437.98,262.45 438.18,264.10 438.38,265.83 438.58,267.65 438.78,269.55 438.99,271.51 439.19,273.54 439.39,275.62 439.59,277.74 439.79,279.91 439.99,282.10 440.19,284.32 440.40,286.54 440.60,288.78 440.80,291.01 441.00,293.23 441.20,295.44 441.41,297.62 441.61,299.77 441.81,301.88 442.01,303.94 442.21,305.96 442.41,307.93 442.62,309.84 442.82,311.68 443.02,313.47 443.22,315.18 443.42,316.83 443.62,318.40 443.82,319.90 444.03,321.33 444.23,322.69 444.43,323.97 444.63,325.18 444.83,326.32 445.04,327.39 445.24,328.39 445.44,329.33 445.64,330.20 445.84,331.00 446.04,331.75 446.25,332.44 446.45,333.08 446.65,333.66 446.85,334.20 447.05,334.68 447.25,335.13 447.45,335.54 447.66,335.90 447.86,336.23 448.06,336.53 448.26,336.80 448.46,337.04 448.67,337.26 448.87,337.45 449.07,337.62 449.27,337.77 449.47,337.91 449.67,338.03 449.88,338.13 450.08,338.22 450.28,338.30 450.48,338.37 450.68,338.44 450.88,338.49 451.09,338.53 451.29,338.57 451.49,338.61 451.69,338.64 451.89,338.66 452.09,338.69 452.30,338.70 452.50,338.72 452.70,338.73 452.90,338.74 453.10,338.75 453.30,338.76 453.50,338.77 453.71,338.77 453.91,338.78 454.11,338.78 454.31,338.79 454.51,338.79 454.72,338.79 454.92,338.79 455.12,338.79 455.32,338.79 455.52,338.80 455.72,338.80 455.93,338.80 456.13,338.80 456.33,338.80 456.53,338.80 456.73,338.80 456.93,338.80 457.13,338.80 457.34,338.80 457.54,338.80 457.74,338.80 457.94,338.80 458.14,338.80 458.35,338.80 458.55,338.80 458.75,338.80 458.95,338.80 459.15,338.80 459.35,338.80 459.56,338.80 459.76,338.80 459.96,338.80 460.16,338.80 460.36,338.80 460.56,338.80 460.76,338.80 460.97,338.80 461.17,338.80 461.37,338.80 461.57,338.80 461.77,338.80 461.98,338.80 462.18,338.80 462.38,338.80 462.58,338.80 462.78,338.80 462.98,338.80 463.19,338.80 463.39,338.80 463.59,338.80 463.79,338.80 463.99,338.80 464.19,338.80 464.39,338.80 464.60,338.80 464.80,338.80 465.00,338.80" fill="none" stroke="#2a2a2a" stroke-width="1.3" stroke-dasharray="4.4,2.8"/>
<polyline points="416.60,338.76 417.02,338.75 417.44,338.75 417.86,338.74 418.27,338.74 418.69,338.73 419.11,338.73 419.53,338.72 419.95,338.71 420.37,338.70 420.78,338.69 421.20,338.68 421.62,338.67 422.04,338.66 422.46,338.65 422.88,338.63 423.29,338.62 423.71,338.60 424.13,338.58 424.55,338.56 424.97,338.54 425.39,338.52 425.80,338.49 426.22,338.47 426.64,338.43 427.06,338.40 427.48,338.37 427.90,338.33 428.31,338.28 428.73,338.24 429.15,338.19 429.57,338.13 429.99,338.07 430.41,338.01 430.82,337.94 431.24,337.87 431.66,337.78 432.08,337.70 432.50,337.60 432.92,337.50 433.33,337.39 433.75,337.26 434.17,337.13 434.59,336.99 435.01,336.84 435.43,336.67 435.84,336.50 436.26,336.30 436.68,336.10 437.10,335.87 437.52,335.63 437.94,335.37 438.35,335.09 438.77,334.79 439.19,334.47 439.61,334.12 440.03,333.75 440.44,333.35 440.86,332.92 441.28,332.46 441.70,331.96 442.12,331.43 442.54,330.86 442.96,330.25 443.37,329.60 443.79,328.90 444.21,328.16 444.63,327.37 445.05,326.52 445.47,325.61 445.88,324.65 446.30,323.62 446.72,322.53 447.14,321.37 447.56,320.13 447.98,318.82 448.39,317.43 448.81,315.96 449.23,314.40 449.65,312.75 450.07,311.01 450.49,309.17 450.90,307.24 451.32,305.20 451.74,303.06 452.16,300.81 452.58,298.45 453.00,295.98 453.41,293.41 453.83,290.72 454.25,287.93 454.67,285.03 455.09,282.04 455.50,278.94 455.92,275.77 456.34,272.52 456.76,269.21 457.18,265.87 457.60,262.51 458.01,259.19 458.43,255.96 458.85,252.91 459.27,250.24 459.69,249.28 460.11,249.87 460.53,250.95 460.94,252.46 461.36,254.34 461.78,256.57 462.20,259.10 462.62,261.88 463.04,264.88 463.45,268.06 463.87,271.38 464.29,274.80 464.71,278.29 465.13,281.81 465.55,285.34 465.96,288.84 466.38,292.28 466.80,295.65 467.22,298.92 467.64,302.08 468.06,305.12 468.47,308.01 468.89,310.76 469.31,313.35 469.73,315.78 470.15,318.06 470.56,320.17 470.98,322.13 471.40,323.93 471.82,325.58 472.24,327.09 472.66,328.47 473.07,329.71 473.49,330.83 473.91,331.83 474.33,332.73 474.75,333.53 475.17,334.24 475.59,334.87 476.00,335.42 476.42,335.90 476.84,336.33 477.26,336.69 477.68,337.01 478.10,337.29 478.51,337.53 478.93,337.73 479.35,337.90 479.77,338.05 480.19,338.18 480.61,338.28 481.02,338.37 481.44,338.45 481.86,338.51 482.28,338.56 482.70,338.61 483.12,338.64 483.53,338.67 483.95,338.70 484.37,338.72 484.79,338.73 485.21,338.75 485.62,338.76 486.04,338.77 486.46,338.77 486.88,338.78 487.30,338.78 487.72,338.79 488.13,338.79 488.55,338.79 488.97,338.79 489.39,338.79 489.81,338.80 490.23,338.80 490.64,338.80 491.06,338.80 491.48,338.80 491.90,338.80 492.32,338.80 492.74,338.80 493.16,338.80 493.57,338.80 493.99,338.80 494.41,338.80 494.83,338.80 495.25,338.80 495.67,338.80 496.08,338.80 496.50,338.80 496.92,338.80 497.34,338.80 497.76,338.80 498.18,338.80 498.59,338.80 499.01,338.80 499.43,338.80 499.85,338.80 500.27,338.80 500.69,338.80 501.10,338.80 501.52,338.80 501.94,338.80 502.36,338.80 502.78,338.80 503.19,338.80 503.61,338.80 504.03,338.80 504.45,338.80 504.87,338.80 505.29,338.80 505.70,338.80 506.12,338.80 506.54,338.80 506.96,338.80 507.38,338.80 507.80,338.80 508.22,338.80 508.63,338.80 509.05,338.80 509.47,338.80 509.89,338.80 510.31,338.80 510.73,338.80 511.14,338.80 511.56,338.80 511.98,338.80 512.40,338.80 512.82,338.80 513.24,338.80 513.65,338.80 514.07,338.80 514.49,338.80 514.91,338.80 515.33,338.80 515.75,338.80 516.16,338.80 516.58,338.80 517.00,338.80" fill="none" stroke="#000" stroke-width="1.5"/>
<line x1="415.60" y1="338.70" x2="517.60" y2="338.70" stroke="#000" stroke-width="1.4"/>
<line x1="450.80" y1="242.80" x2="459.40" y2="242.80" stroke="#000" stroke-width="1.5"/>
<text x="462.3" y="246.4" font-size="8.7" text-anchor="start" fill="#111" textLength="51.0" lengthAdjust="spacingAndGlyphs">WPI-Vpr WT</text>
<text x="513.0" y="258.1" font-size="8.8" text-anchor="end" fill="#111">49.5</text>
<line x1="485.40" y1="265.90" x2="494.80" y2="265.90" stroke="#858585" stroke-width="3.2"/>
<text x="513.0" y="269.6" font-size="8.8" text-anchor="end" fill="#111" textLength="17.6" lengthAdjust="spacingAndGlyphs">WPI</text>
<text x="513.0" y="280.4" font-size="8.8" text-anchor="end" fill="#111">28.1</text>
<text x="453.0" y="226.8" font-size="13" text-anchor="start" fill="#000" textLength="34.6" lengthAdjust="spacingAndGlyphs">GFP -</text>
<line x1="262.90" y1="231.00" x2="262.90" y2="341.00" stroke="#7a7a7a" stroke-width="1.5"/>
<polyline points="259.9,233.6 262.9,229.3 265.9,233.6" fill="none" stroke="#7a7a7a" stroke-width="1.3"/>
<text transform="translate(255.6,285.5) rotate(-90)" x="0" y="0" font-size="12" text-anchor="middle" fill="#000" textLength="120.4" lengthAdjust="spacingAndGlyphs">Relative cell number</text>
<line x1="281.20" y1="354.50" x2="516.50" y2="354.50" stroke="#707070" stroke-width="1.6"/>
<polyline points="513.8,351.5 518,354.5 513.8,357.5" fill="none" stroke="#707070" stroke-width="1.4"/>
<text x="383.0" y="371.9" font-size="13" text-anchor="start" fill="#000" textLength="46.0" lengthAdjust="spacingAndGlyphs">ULBP-2</text>
</svg></body></html>
